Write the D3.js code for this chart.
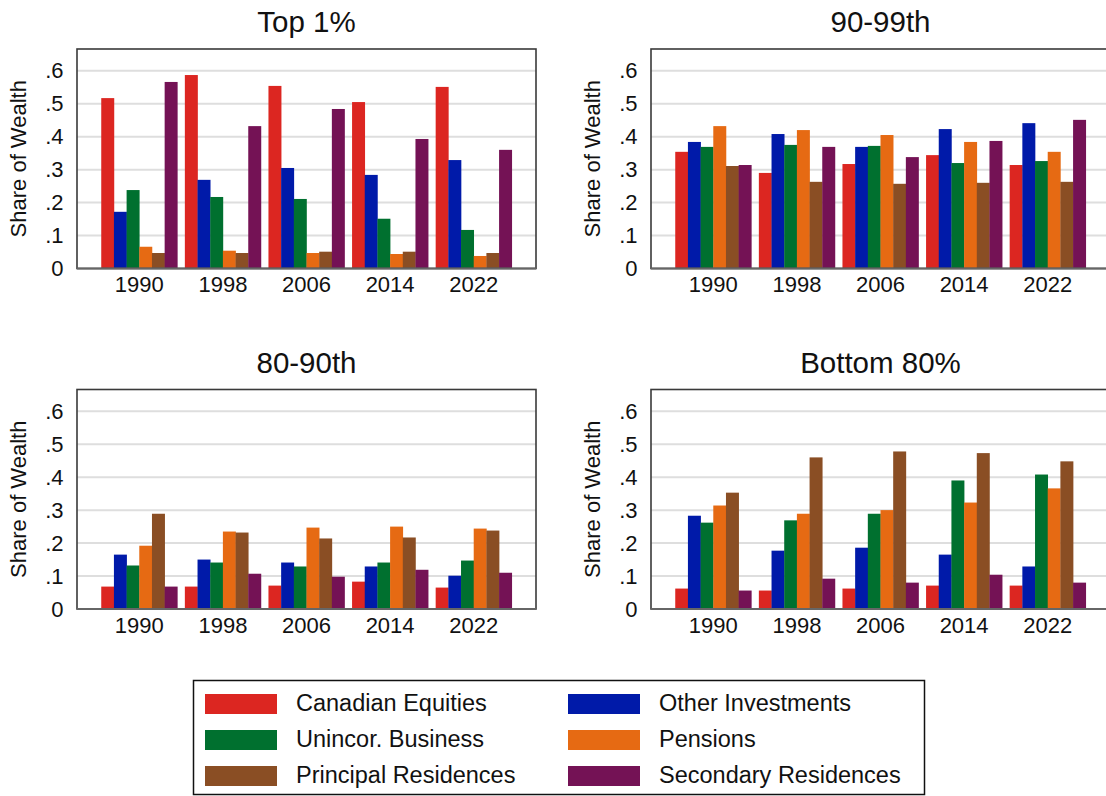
<!DOCTYPE html>
<html>
<head>
<meta charset="utf-8">
<script src="https://cdn.jsdelivr.net/npm/d3@7"></script>
<style>
  html, body { margin: 0; padding: 0; background: #fff; }
  svg { display: block; }
  text { font-family: "Liberation Sans", Arial, Helvetica, sans-serif; fill: #111; }
</style>
</head>
<body>
<svg id="chart" width="1106" height="796"></svg>
<script>
// Survey years (x categories)
const years = ["1990", "1998", "2006", "2014", "2022"];

// Asset classes (bar series within each year)
const assets = ["Canadian Equities", "Other Investments", "Unincor. Business",
                "Pensions", "Principal Residences", "Secondary Residences"];
const assetColors = ["#dc2621", "#001aa9", "#00702f", "#e66a13", "#8a4e24", "#741255"];

// Y tick values
const yTicks = [0, 0.1, 0.2, 0.3, 0.4, 0.5, 0.6];

// Wealth groups (panel titles)
const groups = ["Top 1%", "90-99th", "80-90th", "Bottom 80%"];

// Share of wealth, one row per year, columns in asset order
const top1 = [
  [0.517, 0.172, 0.238, 0.066, 0.047, 0.566],
  [0.587, 0.269, 0.217, 0.054, 0.047, 0.432],
  [0.554, 0.305, 0.211, 0.047, 0.051, 0.484],
  [0.505, 0.284, 0.151, 0.044, 0.051, 0.393],
  [0.551, 0.329, 0.117, 0.038, 0.047, 0.360]
];
const p90to99 = [
  [0.354, 0.384, 0.369, 0.432, 0.311, 0.314],
  [0.290, 0.408, 0.375, 0.420, 0.263, 0.369],
  [0.317, 0.369, 0.372, 0.405, 0.257, 0.338],
  [0.344, 0.423, 0.320, 0.384, 0.260, 0.387],
  [0.314, 0.441, 0.326, 0.354, 0.263, 0.451]
];
const p80to90 = [
  [0.068, 0.165, 0.132, 0.192, 0.289, 0.068],
  [0.068, 0.150, 0.141, 0.235, 0.232, 0.107],
  [0.071, 0.141, 0.129, 0.247, 0.214, 0.098],
  [0.083, 0.129, 0.141, 0.250, 0.217, 0.119],
  [0.065, 0.101, 0.147, 0.244, 0.238, 0.110]
];
const bottom80 = [
  [0.062, 0.283, 0.262, 0.314, 0.353, 0.056],
  [0.056, 0.177, 0.269, 0.289, 0.460, 0.092],
  [0.062, 0.186, 0.289, 0.300, 0.478, 0.080],
  [0.071, 0.165, 0.390, 0.323, 0.473, 0.104],
  [0.071, 0.129, 0.408, 0.366, 0.448, 0.080]
];
const panelData = [top1, p90to99, p80to90, bottom80];

const svg = d3.select("#chart");

// Panel frames: [left, top]
const panelW = 459, panelH = 219.5;
const panelPos = [[77, 49], [651, 49], [77, 389.5], [651, 389.5]];

const color = d3.scaleOrdinal().domain(assets).range(assetColors);
const fmt = d => d === 0 ? "0" : d3.format(".1f")(d).replace(/^0/, "");

panelData.forEach((rows, pi) => {
  const [px, py] = panelPos[pi];
  const g = svg.append("g").attr("transform", `translate(${px},${py})`);

  const y = d3.scaleLinear().domain([0, 0.666]).range([panelH, 0]);
  const x0 = d3.scaleBand().domain(years).range([0, panelW])
    .paddingInner(0.09).paddingOuter(0.29);
  const x1 = d3.scaleBand().domain(assets).range([0, x0.bandwidth()]);

  // gridlines
  g.selectAll("line.grid").data(yTicks.filter(t => t > 0)).join("line")
    .attr("class", "grid")
    .attr("x1", 0).attr("x2", panelW)
    .attr("y1", d => y(d)).attr("y2", d => y(d))
    .attr("stroke", "#dedede").attr("stroke-width", 2);

  // bars
  const yearG = g.selectAll("g.year").data(rows).join("g")
    .attr("class", "year")
    .attr("transform", (d, i) => `translate(${x0(years[i])},0)`);
  yearG.selectAll("rect").data(d => d.map((v, k) => ({ key: assets[k], v })))
    .join("rect")
    .attr("x", d => x1(d.key))
    .attr("width", x1.bandwidth() + 0.3)
    .attr("y", d => y(d.v))
    .attr("height", d => y(0) - y(d.v))
    .attr("fill", d => color(d.key));

  // frame
  g.append("rect")
    .attr("x", 0).attr("y", 0).attr("width", panelW).attr("height", panelH)
    .attr("fill", "none").attr("stroke", "#3a3a3a").attr("stroke-width", 1.6);
  g.append("line")
    .attr("x1", 0).attr("x2", panelW).attr("y1", y(0)).attr("y2", y(0))
    .attr("stroke", "#666").attr("stroke-width", 2.2);

  // y axis
  const ya = g.append("g").call(d3.axisLeft(y).tickValues(yTicks).tickFormat(fmt)
    .tickSize(0).tickPadding(13.5));
  ya.select(".domain").remove();
  ya.selectAll("text").style("font-size", "22px")
    .style("font-family", "'Liberation Sans', Arial, sans-serif").attr("fill", "#111");

  // x axis
  const xa = g.append("g").attr("transform", `translate(0,${panelH})`)
    .call(d3.axisBottom(x0).tickSize(0).tickPadding(8));
  xa.select(".domain").remove();
  xa.selectAll("text").style("font-size", "22px")
    .style("font-family", "'Liberation Sans', Arial, sans-serif").attr("fill", "#111");

  // y axis title
  g.append("text")
    .attr("transform", `translate(-57,${panelH / 2}) rotate(-90)`)
    .attr("text-anchor", "middle").attr("dominant-baseline", "middle")
    .style("font-size", "22px")
    .text("Share of Wealth");

  // panel title
  g.append("text")
    .attr("x", panelW / 2).attr("y", -17)
    .attr("text-anchor", "middle")
    .style("font-size", "29.5px")
    .text(groups[pi]);
});

// legend
const lg = svg.append("g");
lg.append("rect").attr("x", 193.5).attr("y", 680.5).attr("width", 731).attr("height", 114)
  .attr("fill", "#fff").attr("stroke", "#111").attr("stroke-width", 1.5);
const legendItems = lg.selectAll("g.item").data(assets).join("g")
  .attr("class", "item")
  .attr("transform", (d, i) => `translate(${i % 2 === 0 ? 205 : 568},${704 + Math.floor(i / 2) * 36})`);
legendItems.append("rect")
  .attr("x", 0).attr("y", -10).attr("width", 72).attr("height", 20)
  .attr("fill", d => color(d));
legendItems.append("text")
  .attr("x", 91).attr("y", 1).attr("dominant-baseline", "middle")
  .style("font-size", "23.5px")
  .text(d => d);
</script>
</body>
</html>
